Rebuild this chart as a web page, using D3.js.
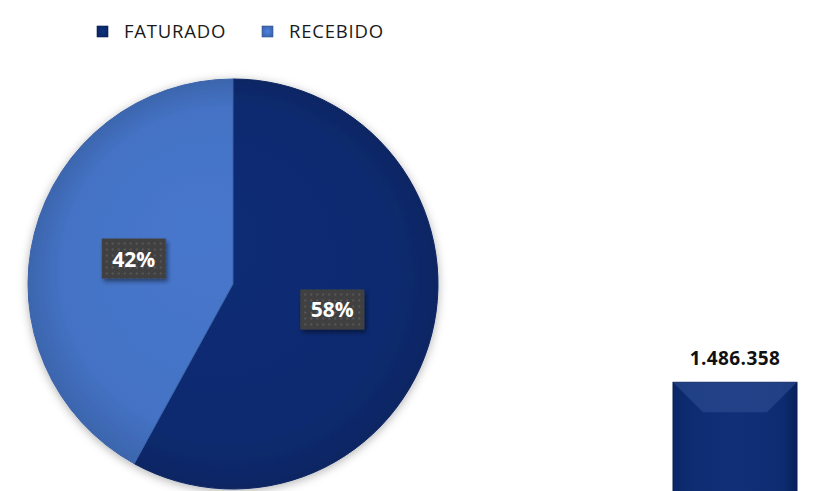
<!DOCTYPE html>
<html>
<head>
<meta charset="utf-8">
<script src="https://d3js.org/d3.v7.min.js"></script>
<style>
  body { margin: 0; background: #fff; }
  svg { display: block; font-family: "Open Sans", sans-serif; }
</style>
</head>
<body>
<div class="chart"></div>
<script>
// pie data
var categories = ['FATURADO', 'RECEBIDO'];
var shares = [58, 42];
var colors = ['#0c2b70', '#4472c4'];

// bar shown at the right (partly cut off)
var barLabels = ['FATURADO'];
var barValues = [1486358];

var width = 839;
var height = 491;

var svg = d3.select('.chart').append('svg')
  .attr('width', width)
  .attr('height', height);

var defs = svg.append('defs');

// soft shadow for pie and labels
var shadow = defs.append('filter').attr('id', 'shadow')
  .attr('x', '-20%').attr('y', '-20%').attr('width', '140%').attr('height', '140%');
shadow.append('feDropShadow')
  .attr('dx', 0).attr('dy', 2).attr('stdDeviation', 5)
  .attr('flood-color', '#000').attr('flood-opacity', 0.3);

var boxShadow = defs.append('filter').attr('id', 'boxshadow')
  .attr('x', '-30%').attr('y', '-30%').attr('width', '160%').attr('height', '160%');
boxShadow.append('feDropShadow')
  .attr('dx', 2).attr('dy', 3).attr('stdDeviation', 2)
  .attr('flood-color', '#000').attr('flood-opacity', 0.45);

// dotted pattern for label boxes
var dots = defs.append('pattern').attr('id', 'dots')
  .attr('width', 6).attr('height', 6).attr('patternUnits', 'userSpaceOnUse');
dots.append('rect').attr('width', 6).attr('height', 6).attr('fill', '#404040');
dots.append('rect').attr('x', 2).attr('y', 2).attr('width', 2).attr('height', 2).attr('fill', '#585858');

// radial gradients per slice (centred on the pie group origin)
colors.forEach(function(c, i) {
  var g = defs.append('radialGradient').attr('id', 'grad' + i)
    .attr('gradientUnits', 'userSpaceOnUse')
    .attr('cx', 0).attr('cy', 0).attr('r', 206)
    .attr('fx', -40).attr('fy', -60);
  g.append('stop').attr('offset', '0%').attr('stop-color', d3.color(c).brighter(0.12));
  g.append('stop').attr('offset', '80%').attr('stop-color', c);
  g.append('stop').attr('offset', '100%').attr('stop-color', d3.color(c).darker(0.35));
});

// legend marker gradients
colors.forEach(function(c, i) {
  var g = defs.append('radialGradient').attr('id', 'lgrad' + i);
  g.append('stop').attr('offset', '0%').attr('stop-color', d3.color(c).brighter(0.4));
  g.append('stop').attr('offset', '100%').attr('stop-color', d3.color(c).darker(0.3));
});

// bar gradient
var bg = defs.append('linearGradient').attr('id', 'bargrad')
  .attr('x1', 0).attr('x2', 1).attr('y1', 0).attr('y2', 0);
bg.append('stop').attr('offset', '0%').attr('stop-color', '#0a2766');
bg.append('stop').attr('offset', '12%').attr('stop-color', '#0d2c70');
bg.append('stop').attr('offset', '50%').attr('stop-color', '#112f78');
bg.append('stop').attr('offset', '88%').attr('stop-color', '#0d2c70');
bg.append('stop').attr('offset', '100%').attr('stop-color', '#08215c');

// legend
var legend = svg.append('g').attr('class', 'legend');
var legendX = [97, 262];
categories.forEach(function(name, i) {
  var item = legend.append('g').attr('transform', 'translate(' + legendX[i] + ',26)');
  item.append('rect')
    .attr('width', 11).attr('height', 11)
    .attr('fill', 'url(#lgrad' + i + ')')
    .attr('stroke', d3.color(colors[i]).darker(0.8))
    .attr('stroke-width', 0.6);
  item.append('text')
    .attr('x', 27).attr('y', 12)
    .attr('font-size', 18.5)
    .attr('letter-spacing', 0.8)
    .attr('fill', '#1a1a1a')
    .text(name);
});

// pie
var cx = 233, cy = 284, radius = 205;
var pie = d3.pie().sort(null).value(function(d) { return d; });
var arc = d3.arc().innerRadius(0).outerRadius(radius);
var arcs = pie(shares);

var pieG = svg.append('g')
  .attr('transform', 'translate(' + cx + ',' + cy + ')');

pieG.append('g').attr('filter', 'url(#shadow)')
  .selectAll('path')
  .data(arcs)
  .enter()
  .append('path')
  .attr('d', arc)
  .attr('fill', function(d, i) { return 'url(#grad' + i + ')'; })
  .attr('stroke', function(d, i) { return d3.color(colors[i]).darker(0.4); })
  .attr('stroke-width', 1);

// percentage labels
var labels = pieG.selectAll('.pct')
  .data(arcs)
  .enter()
  .append('g')
  .attr('class', 'pct')
  .attr('transform', function(d) {
    var c = arc.centroid(d);
    return 'translate(' + c[0] + ',' + c[1] + ')';
  });

labels.append('rect')
  .attr('x', -32).attr('y', -20)
  .attr('width', 64).attr('height', 40)
  .attr('fill', 'url(#dots)')
  .attr('filter', 'url(#boxshadow)');

labels.append('text')
  .attr('text-anchor', 'middle')
  .attr('y', 8)
  .attr('font-size', 21)
  .attr('font-weight', 'bold')
  .attr('fill', '#fff')
  .text(function(d) { return d.data + '%'; });

// bar chart (only the top of the bar is visible)
var xBar = d3.scaleBand().domain(barLabels).range([642, 828]).paddingInner(0).paddingOuter(0.25);
var yBar = d3.scaleLinear().domain([0, 1600000]).range([700, 358]);

var bars = svg.append('g').selectAll('g')
  .data(barValues)
  .enter()
  .append('g');

bars.append('rect')
  .attr('x', function(d, i) { return xBar(barLabels[i]); })
  .attr('y', function(d) { return yBar(d); })
  .attr('width', xBar.bandwidth())
  .attr('height', function(d) { return yBar(0) - yBar(d); })
  .attr('fill', 'url(#bargrad)')
  .attr('stroke', '#081f55')
  .attr('stroke-width', 1);

// bevel on top edge
bars.append('path')
  .attr('d', function(d, i) {
    var x0 = xBar(barLabels[i]), x1 = x0 + xBar.bandwidth(), y0 = yBar(d), b = 30;
    return 'M' + x0 + ',' + y0 + 'L' + x1 + ',' + y0 + 'L' + (x1 - b) + ',' + (y0 + b) + 'L' + (x0 + b) + ',' + (y0 + b) + 'Z';
  })
  .attr('fill', '#2f4f93')
  .attr('opacity', 0.6);

bars.append('text')
  .attr('x', function(d, i) { return xBar(barLabels[i]) + xBar.bandwidth() / 2; })
  .attr('y', function(d) { return yBar(d) - 17; })
  .attr('text-anchor', 'middle')
  .attr('font-size', 19)
  .attr('font-weight', 'bold')
  .attr('letter-spacing', 0.4)
  .attr('fill', '#111')
  .text(function(d) { return d3.format(',')(d).replace(/,/g, '.'); });
</script>
</body>
</html>
